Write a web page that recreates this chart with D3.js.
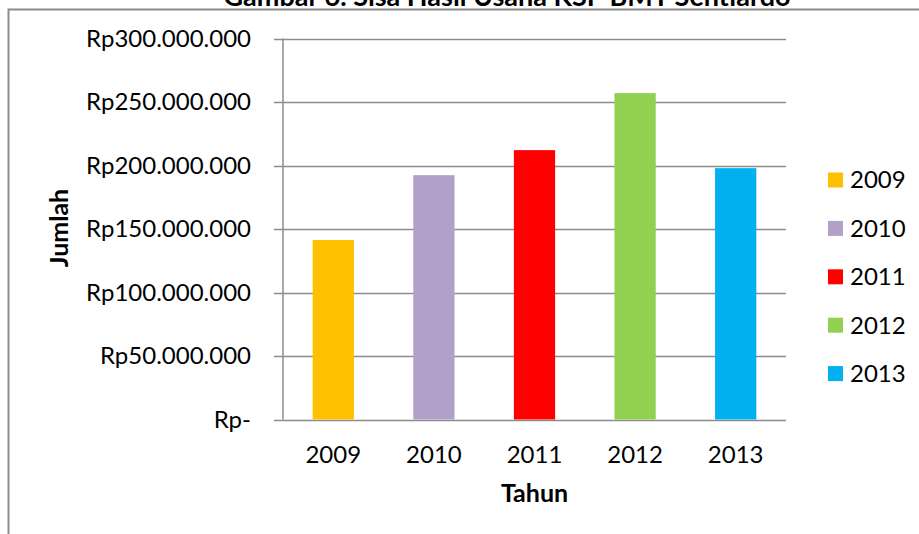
<!DOCTYPE html>
<html>
<head>
<meta charset="utf-8">
<script src="https://cdn.jsdelivr.net/npm/d3@7"></script>
<style>
  body { margin: 0; background: #fff; }
  svg { display: block; font-family: Lato, "Open Sans", sans-serif; }
</style>
</head>
<body>
<div id="chart"></div>
<script>
// data
var years = ["2009", "2010", "2011", "2012", "2013"]
var values = [141300000, 192400000, 212100000, 257000000, 197900000]
var colors = ["#ffc000", "#b1a0c7", "#ff0000", "#92d050", "#00b0f0"]
var yTicks = [0, 50000000, 100000000, 150000000, 200000000, 250000000, 300000000]

var width = 919, height = 534
var margin = {top: 38.5, right: 133, bottom: 114.5, left: 283}

var svg = d3.select("#chart").append("svg")
  .attr("width", width)
  .attr("height", height)

// outer frame (cut off at right and bottom)
svg.append("path")
  .attr("d", "M8.5," + height + "V9.5H" + width)
  .attr("fill", "none")
  .attr("stroke", "#8c8c8c")
  .attr("stroke-width", 2)

// title, only its lower part shows in the reference
svg.append("text")
  .attr("x", 507)
  .attr("y", 6)
  .attr("text-anchor", "middle")
  .attr("font-weight", "bold")
  .attr("font-size", 27)
  .text("Gambar 6. Sisa Hasil Usaha KSP BMT Sentiardo")

var x = d3.scaleBand()
  .domain(years)
  .range([margin.left, width - margin.right])
  .paddingInner(0.59)
  .paddingOuter(0.295)

var y = d3.scaleLinear()
  .domain([0, 300000000])
  .range([height - margin.bottom, margin.top])

var loc = d3.formatLocale({decimal: ",", thousands: ".", grouping: [3], currency: ["Rp", ""]})
var fmt = loc.format(",")
var yFormat = d => d === 0 ? "Rp-" : "Rp" + fmt(d)

// gridlines
svg.append("g")
  .selectAll("line")
  .data(yTicks)
  .join("line")
    .attr("x1", margin.left - 9)
    .attr("x2", width - margin.right)
    .attr("y1", d => Math.round(y(d)) + 0.5)
    .attr("y2", d => Math.round(y(d)) + 0.5)
    .attr("stroke", "#8c8c8c")
    .attr("stroke-width", 1.5)

// y axis line
svg.append("line")
  .attr("x1", margin.left).attr("x2", margin.left)
  .attr("y1", y(300000000)).attr("y2", y(0))
  .attr("stroke", "#8c8c8c")
  .attr("stroke-width", 1.5)

svg.append("g")
  .selectAll("text")
  .data(yTicks)
  .join("text")
    .attr("x", 251)
    .attr("y", d => y(d))
    .attr("dy", "0.35em")
    .attr("text-anchor", "end")
    .attr("font-size", 24)
    .attr("fill", "#000")
    .text(yFormat)

// bars
svg.append("g")
  .selectAll("rect")
  .data(values)
  .join("rect")
    .attr("x", (d, i) => x(years[i]))
    .attr("y", d => y(d))
    .attr("width", x.bandwidth())
    .attr("height", d => y(0) - y(d))
    .attr("fill", (d, i) => colors[i])

// x tick labels
svg.append("g")
  .selectAll("text")
  .data(years)
  .join("text")
    .attr("x", d => x(d) + x.bandwidth() / 2)
    .attr("y", 463)
    .attr("text-anchor", "middle")
    .attr("font-size", 24)
    .text(d => d)

// axis titles
svg.append("text")
  .attr("x", (margin.left + width - margin.right) / 2)
  .attr("y", 502)
  .attr("text-anchor", "middle")
  .attr("font-weight", "bold")
  .attr("font-size", 25)
  .text("Tahun")

svg.append("text")
  .attr("transform", "translate(68,228) rotate(-90)")
  .attr("text-anchor", "middle")
  .attr("font-weight", "bold")
  .attr("font-size", 25)
  .text("Jumlah")

// legend
var legend = svg.append("g")
  .selectAll("g")
  .data(years)
  .join("g")
    .attr("transform", (d, i) => "translate(828," + (180 + i * 48.4) + ")")

legend.append("rect")
  .attr("y", -7.5)
  .attr("width", 15)
  .attr("height", 15)
  .attr("fill", (d, i) => colors[i])

legend.append("text")
  .attr("x", 22)
  .attr("dy", "0.35em")
  .attr("font-size", 24)
  .text(d => d)
</script>
</body>
</html>
